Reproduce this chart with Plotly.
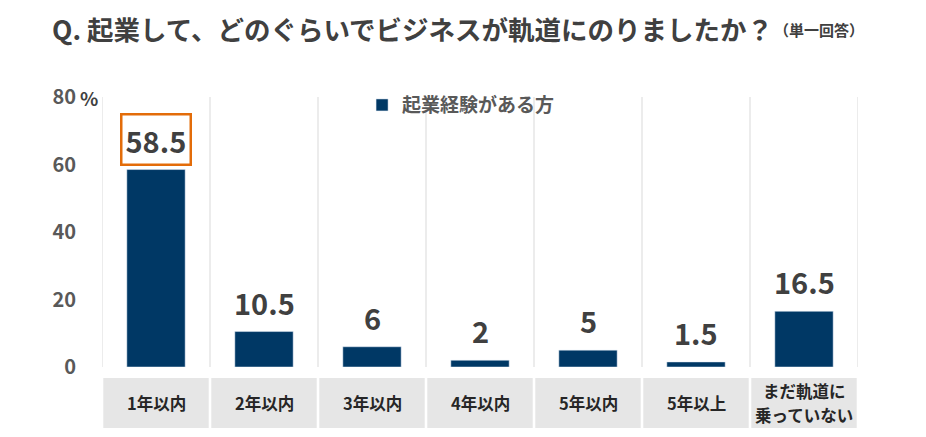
import plotly.graph_objects as go

categories = ["1年以内", "2年以内", "3年以内", "4年以内", "5年以内", "5年以上", "まだ軌道に<br>乗っていない"]
values = [58.5, 10.5, 6, 2, 5, 1.5, 16.5]
value_labels = ["58.5", "10.5", "6", "2", "5", "1.5", "16.5"]
series_name = "起業経験がある方"
y_ticks = [0, 20, 40, 60, 80]
y_tick_labels = ["0", "20", "40", "60", "80"]
title_text = "Q. 起業して、どのぐらいでビジネスが軌道にのりましたか？"
title_note = "（単一回答）"

FONT = "Noto Sans CJK JP"
BAR = "#003865"
TXT = "#404040"
PLOT_H = 270.0

fig = go.Figure()
fig.add_trace(go.Bar(x=categories, y=values, name=series_name, marker_color=BAR,
                     width=0.54, showlegend=True))

# value labels
for i, (c, v, t) in enumerate(zip(categories, values, value_labels)):
    kw = {}
    if i == 0:
        kw = dict(bordercolor="#E36C09", borderwidth=2.5, borderpad=3, bgcolor="white")
    fig.add_annotation(x=c, y=v, text=t, showarrow=False, yanchor="middle",
                       yshift=30, font=dict(family=FONT, size=29, color=TXT, weight="bold"), **kw)

# vertical gridlines at category boundaries
for i in range(len(categories) + 1):
    fig.add_shape(type="line", xref="x", yref="y", x0=i - 0.5, x1=i - 0.5, y0=0, y1=80,
                  line=dict(color="#d9d9d9", width=1), layer="below")

# category label boxes
for i, c in enumerate(categories):
    fig.add_shape(type="rect", xref="x", yref="paper", x0=i - 0.5 + 0.012, x1=i + 0.5 - 0.012,
                  y0=-0.226, y1=-0.041, fillcolor="#e6e6e6", line=dict(width=0), layer="below")
    lines = c.split("<br>")
    n = len(lines)
    for k, line in enumerate(lines):
        off = (k - (n - 1) / 2) * 23.5
        fig.add_annotation(x=c, xref="x", yref="paper", y=-0.1335, yshift=-off, text=line,
                           showarrow=False,
                           font=dict(family=FONT, size=16.5, color="#262626", weight="bold"),
                           yanchor="middle")

# percent unit
fig.add_annotation(xref="paper", yref="paper", x=-0.003, y=1.0, text="%",
                   showarrow=False, xanchor="right", yanchor="middle",
                   font=dict(family=FONT, size=19, color=TXT, weight="bold"))

# title (main + note) as annotations
fig.add_annotation(xref="paper", yref="paper", x=-0.0688, y=1 + (89 - 20) / PLOT_H,
                   text=title_text, showarrow=False, xanchor="left", yanchor="middle",
                   font=dict(family=FONT, size=26.5, color=TXT, weight="bold"))
fig.add_annotation(xref="paper", yref="paper", x=0.886, y=1 + (89 - 22) / PLOT_H,
                   text=title_note, showarrow=False, xanchor="left", yanchor="middle",
                   font=dict(family=FONT, size=15, color=TXT, weight="bold"))

fig.update_layout(
    width=918, height=429,
    margin=dict(l=94, r=68, t=89, b=70),
    plot_bgcolor="white", paper_bgcolor="white",
    xaxis=dict(range=[-0.5, len(categories) - 0.5], showticklabels=False, showgrid=False,
               zeroline=False, showline=False, ticks=""),
    yaxis=dict(range=[0, 80], tickvals=y_ticks, ticktext=y_tick_labels, showgrid=False,
               zeroline=False, showline=False, ticks="", ticklabelstandoff=25,
               tickfont=dict(family=FONT, size=20, color="#595959", weight="bold")),
    legend=dict(orientation="h", x=0.344, y=0.97, xanchor="left", yanchor="middle",
                font=dict(family=FONT, size=19, color="#595959", weight="bold"),
                bgcolor="rgba(0,0,0,0)"),
    bargap=0.46,
)

fig.write_html("out.html")
